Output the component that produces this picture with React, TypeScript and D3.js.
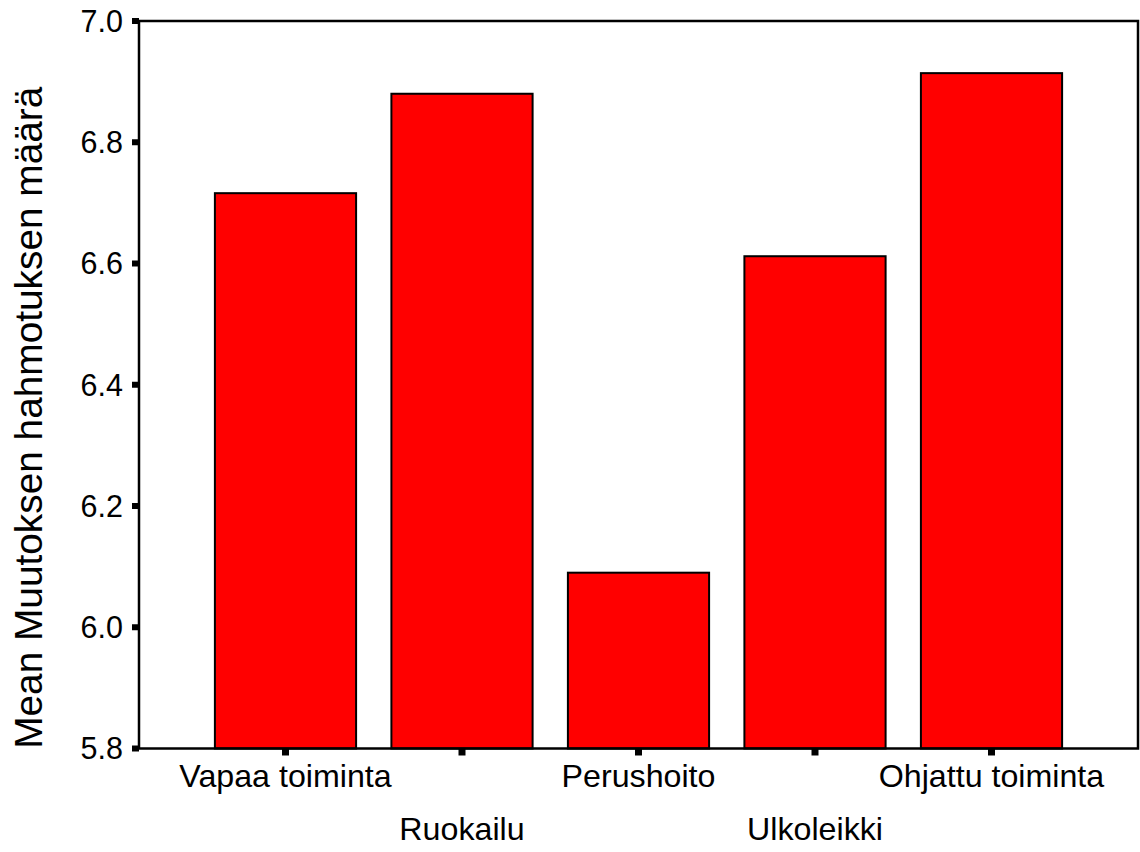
import React from "react";
import * as d3 from "d3";

const categories = ["Vapaa toiminta", "Ruokailu", "Perushoito", "Ulkoleikki", "Ohjattu toiminta"];
const means = [6.716, 6.880, 6.090, 6.612, 6.914];
const yTicks = [5.8, 6.0, 6.2, 6.4, 6.6, 6.8, 7.0];
const yTitle = "Mean Muutoksen hahmotuksen määrä";

const W = 1140;
const H = 852;
const left = 139;
const right = 1138;
const top = 21;
const bottom = 748.5;
const font = "'Liberation Sans', Arial, sans-serif";

export default function App() {
  const x = d3
    .scaleBand<string>()
    .domain(categories)
    .range([left, right])
    .paddingInner(0.2)
    .paddingOuter(0.43);
  const y = d3.scaleLinear().domain([5.8, 7.0]).range([bottom, top]);

  return (
    <svg
      width={W}
      height={H}
      style={{ position: "absolute", left: 0, top: 0, background: "#fff" }}
    >
      {categories.map((c, i) => (
        <rect
          key={c}
          x={x(c)}
          y={y(means[i])}
          width={x.bandwidth()}
          height={bottom - y(means[i])}
          fill="#FF0000"
          stroke="#000"
          strokeWidth={2}
        />
      ))}
      <rect
        x={left}
        y={top}
        width={right - left}
        height={bottom - top}
        fill="none"
        stroke="#000"
        strokeWidth={2.5}
      />
      {yTicks.map((t) => (
        <g key={t}>
          <line x1={132} x2={left} y1={y(t)} y2={y(t)} stroke="#000" strokeWidth={6} />
          <text
            x={123}
            y={y(t)}
            dy="0.36em"
            textAnchor="end"
            fontFamily={font}
            fontSize={30.5}
            fill="#000"
          >
            {t.toFixed(1)}
          </text>
        </g>
      ))}
      {categories.map((c, i) => {
        const cx = (x(c) as number) + x.bandwidth() / 2;
        return (
          <g key={c}>
            <line x1={cx} x2={cx} y1={bottom} y2={bottom + 7} stroke="#000" strokeWidth={7} />
            <text
              x={cx}
              y={i % 2 === 0 ? 787 : 840}
              textAnchor="middle"
              fontFamily={font}
              fontSize={32.2}
              fill="#000"
            >
              {c}
            </text>
          </g>
        );
      })}
      <text
        transform={`translate(42, ${(top + bottom) / 2 + 33}) rotate(-90)`}
        textAnchor="middle"
        fontFamily={font}
        fontSize={38.8}
        fill="#000"
      >
        {yTitle}
      </text>
    </svg>
  );
}
